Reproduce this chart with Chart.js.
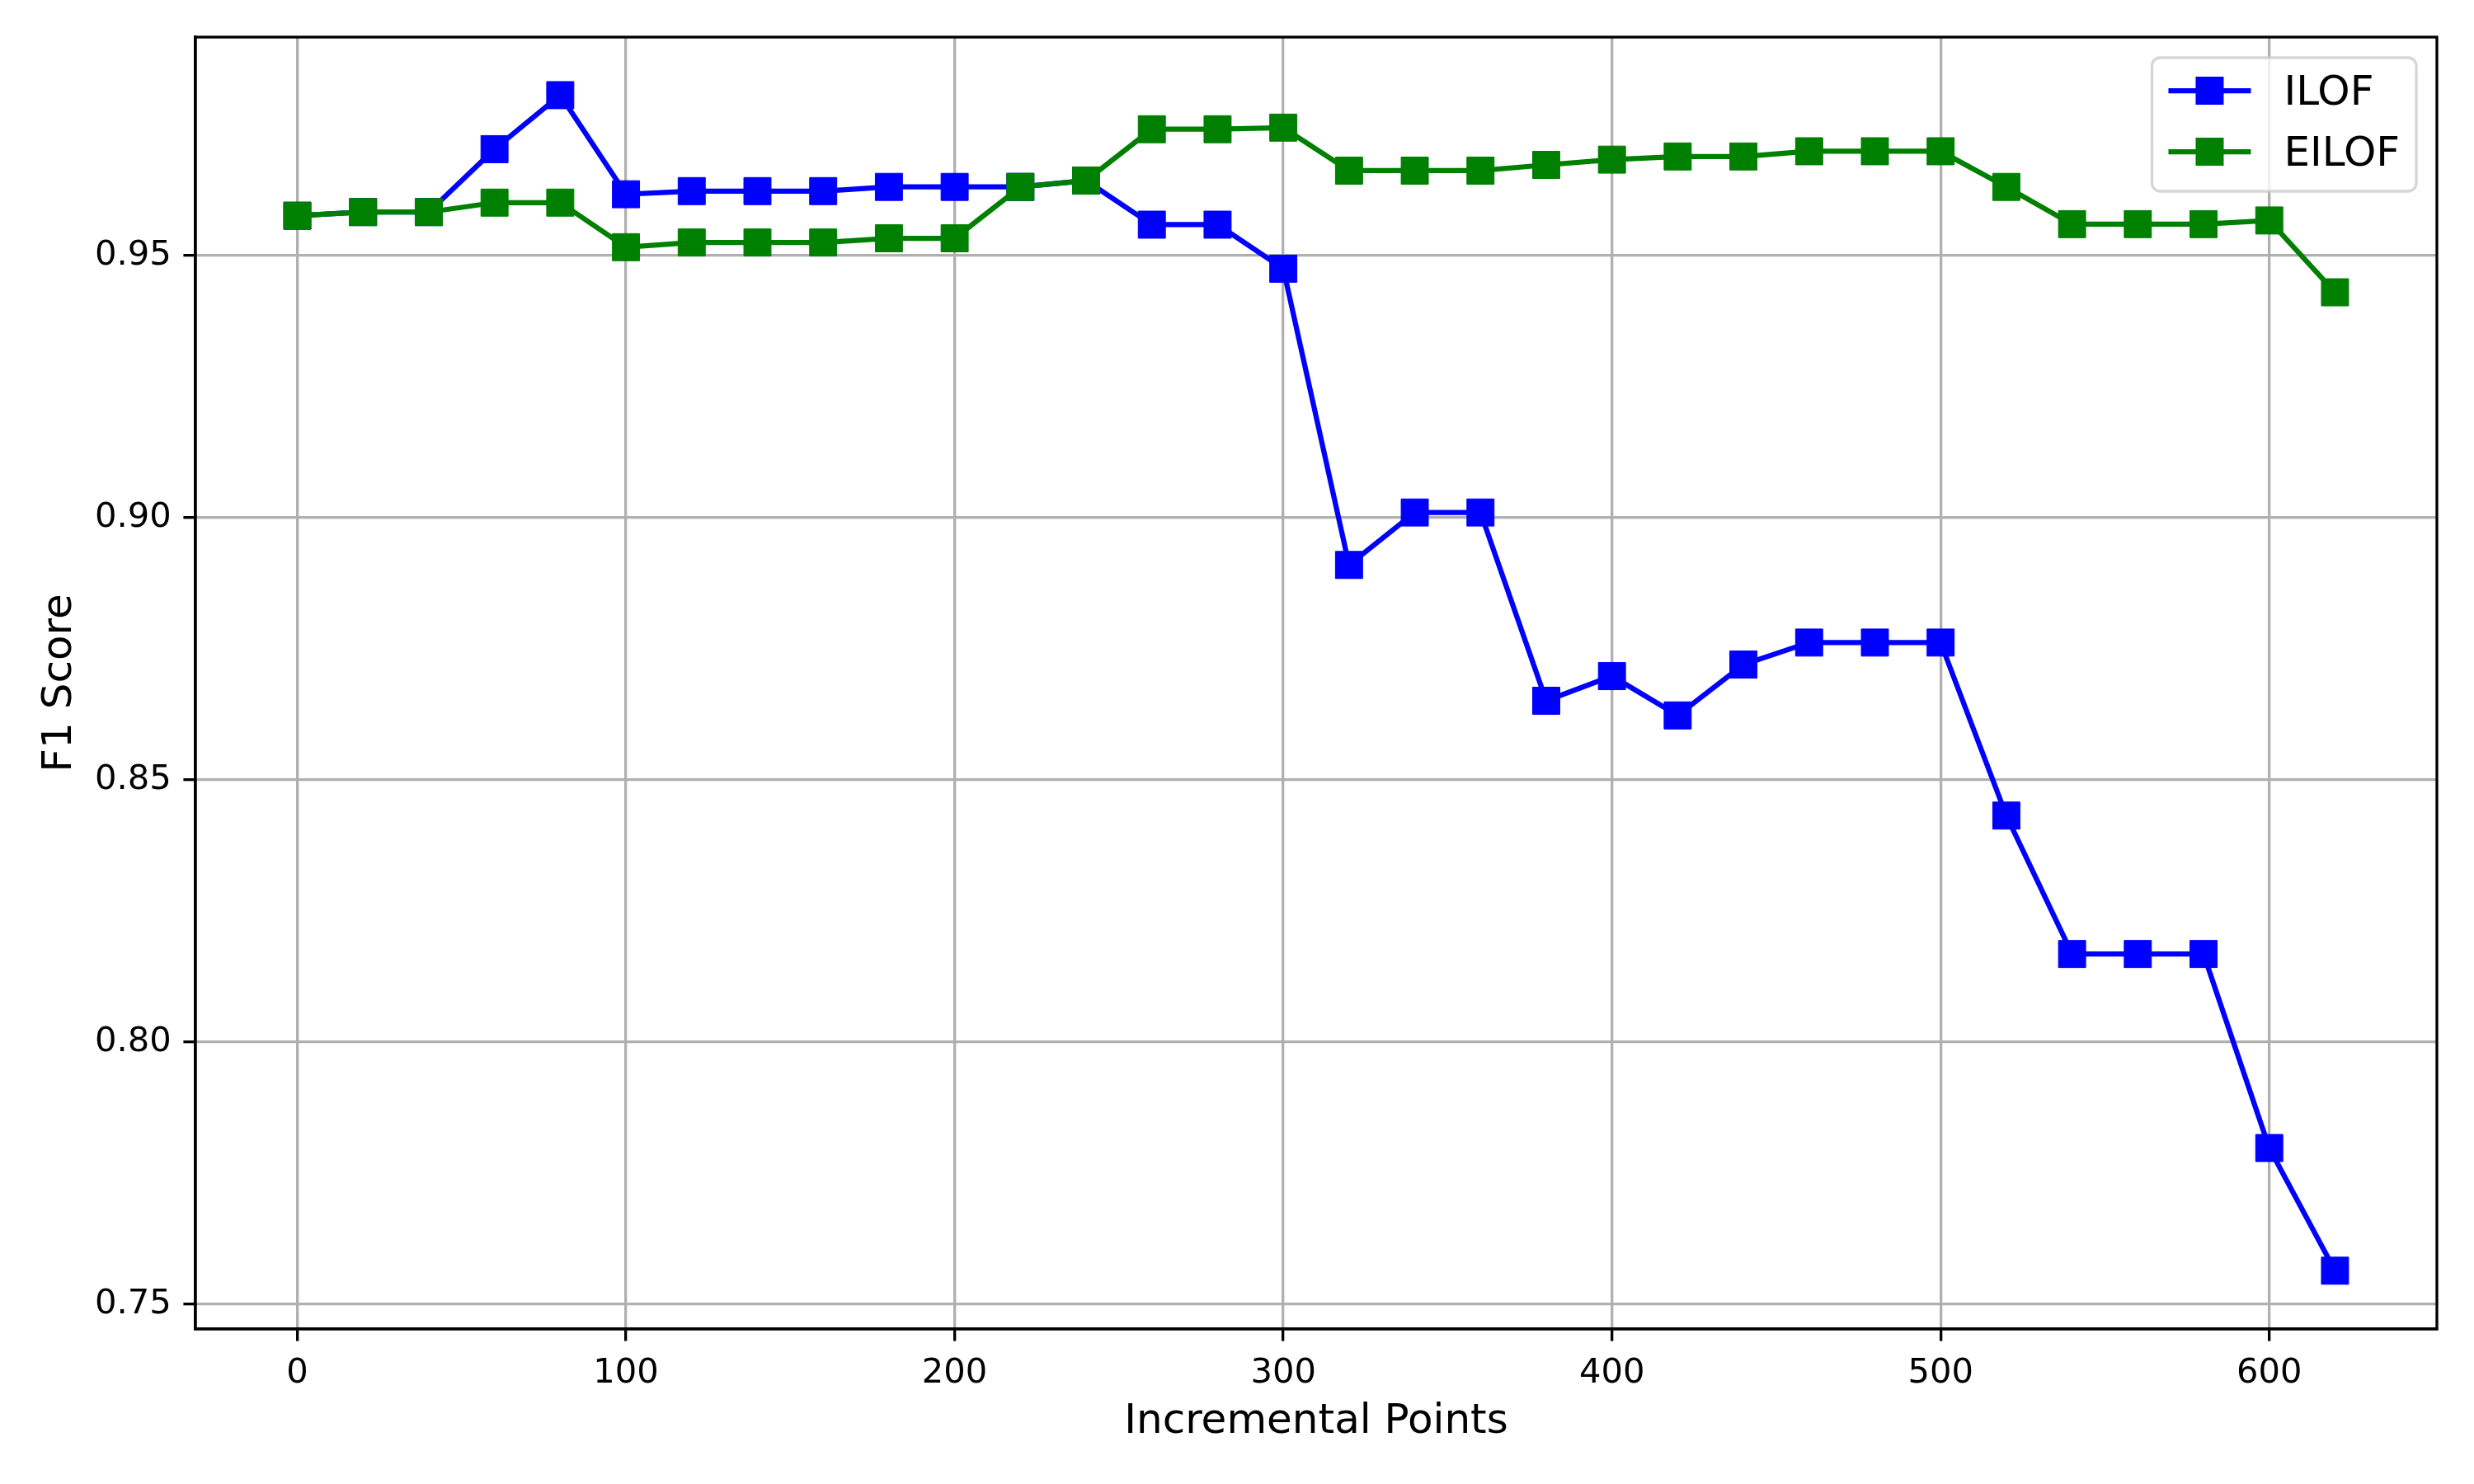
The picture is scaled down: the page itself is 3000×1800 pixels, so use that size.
<!DOCTYPE html>
<html>
<head>
<meta charset="utf-8">
<script src="https://cdn.jsdelivr.net/npm/chart.js@4.4.0/dist/chart.umd.min.js"></script>
<style>
html,body{margin:0;padding:0;background:#ffffff;}
#wrap{width:3000px;height:1800px;}
</style>
</head>
<body>
<div id="wrap"><canvas id="c" width="3000" height="1800"></canvas></div>
<script>
// ---- data ----
const incrementalPoints = [0, 20, 40, 60, 80, 100, 120, 140, 160, 180, 200, 220, 240, 260, 280, 300,
                           320, 340, 360, 380, 400, 420, 440, 460, 480, 500, 520, 540, 560, 580, 600, 620];
const ilofScores = [0.9576, 0.9583, 0.9583, 0.9703, 0.9806, 0.9617, 0.9623, 0.9623, 0.9623, 0.9631, 0.9631,
                    0.9631, 0.9643, 0.9559, 0.9559, 0.9475, 0.8910, 0.9010, 0.9010, 0.8651, 0.8698, 0.8623,
                    0.8720, 0.8762, 0.8762, 0.8762, 0.8432, 0.8168, 0.8168, 0.8168, 0.7798, 0.7564];
const eilofScores = [0.9576, 0.9583, 0.9583, 0.9601, 0.9601, 0.9516, 0.9525, 0.9525, 0.9525, 0.9533, 0.9533,
                     0.9631, 0.9643, 0.9741, 0.9741, 0.9744, 0.9662, 0.9662, 0.9662, 0.9673, 0.9683, 0.9689,
                     0.9689, 0.9699, 0.9699, 0.9699, 0.9631, 0.9560, 0.9560, 0.9560, 0.9567, 0.9430];
const seriesNames = ['ILOF', 'EILOF'];
const seriesColors = ['#0000ff', '#008000'];
const xTickValues = [0, 100, 200, 300, 400, 500, 600];
const yTickValues = [0.75, 0.80, 0.85, 0.90, 0.95];
const xAxisTitle = 'Incremental Points';
const yAxisTitle = 'F1 Score';

// ---- styling ----
const FONT = 'DejaVu Sans';
const LW = 3.33;          // 0.8pt at 300dpi
const TICKLEN = 14.6;     // 3.5pt
const MARKER_R = 23.3;

function pts(ys) { return incrementalPoints.map((x, i) => ({ x: x, y: ys[i] })); }

const frameAndLegend = {
  id: 'frameAndLegend',
  afterDraw(chart) {
    const { ctx, chartArea: a } = chart;
    ctx.save();
    // axes frame (spines)
    ctx.strokeStyle = '#000000';
    ctx.lineWidth = LW;
    ctx.strokeRect(a.left, a.top, a.right - a.left, a.bottom - a.top);

    // legend
    ctx.font = '50px "' + FONT + '"';
    const textW = Math.max(...seriesNames.map(n => ctx.measureText(n).width));
    const pad = 20, handleLen = 100, textPad = 40;
    const w = pad + handleLen + textPad + textW + pad;
    const h = 162;
    const right = a.right - 25, top = a.top + 25;
    const left = right - w;
    const r = 10;
    ctx.beginPath();
    ctx.moveTo(left + r, top);
    ctx.lineTo(right - r, top);
    ctx.arcTo(right, top, right, top + r, r);
    ctx.lineTo(right, top + h - r);
    ctx.arcTo(right, top + h, right - r, top + h, r);
    ctx.lineTo(left + r, top + h);
    ctx.arcTo(left, top + h, left, top + h - r, r);
    ctx.lineTo(left, top + r);
    ctx.arcTo(left, top, left + r, top, r);
    ctx.closePath();
    ctx.fillStyle = 'rgba(255,255,255,0.8)';
    ctx.fill();
    ctx.strokeStyle = 'rgba(204,204,204,0.8)';
    ctx.lineWidth = LW;
    ctx.stroke();

    const rowCenters = [top + 40, top + 114];
    seriesNames.forEach((name, i) => {
      const cy = rowCenters[i];
      const hx = left + pad;
      ctx.strokeStyle = seriesColors[i];
      ctx.lineWidth = 6.25;
      ctx.beginPath();
      ctx.moveTo(hx, cy);
      ctx.lineTo(hx + handleLen, cy);
      ctx.stroke();
      const s = 34;
      ctx.fillStyle = seriesColors[i];
      ctx.fillRect(hx + handleLen / 2 - s / 2, cy - s / 2, s, s);
      ctx.fillStyle = '#000000';
      ctx.textAlign = 'left';
      ctx.textBaseline = 'alphabetic';
      ctx.fillText(name, hx + handleLen + textPad, cy + 17);
    });
    ctx.restore();
  }
};

const ds = (i, ys, order) => ({
  label: seriesNames[i],
  data: pts(ys),
  borderColor: seriesColors[i],
  backgroundColor: seriesColors[i],
  borderWidth: 6.25,
  tension: 0,
  pointStyle: 'rect',
  pointRadius: MARKER_R,
  pointBorderWidth: 1,
  pointBackgroundColor: seriesColors[i],
  pointBorderColor: seriesColors[i],
  order: order,
  clip: false
});

new Chart(document.getElementById('c'), {
  type: 'line',
  data: {
    datasets: [ds(0, ilofScores, 1), ds(1, eilofScores, 0)]
  },
  options: {
    responsive: false,
    devicePixelRatio: 1,
    animation: false,
    events: [],
    layout: { padding: { left: 0, top: 45, right: 45, bottom: 0 } },
    plugins: { legend: { display: false }, tooltip: { enabled: false } },
    scales: {
      x: {
        type: 'linear',
        position: 'bottom',
        min: -31,
        max: 651,
        afterBuildTicks: s => { s.ticks = xTickValues.map(v => ({ value: v })); },
        afterFit: s => { s.height = 188; },
        grid: { color: '#b0b0b0', lineWidth: LW, drawTicks: true, tickLength: TICKLEN, tickWidth: LW, tickColor: '#000000' },
        border: { display: true, color: '#000000', width: LW },
        ticks: {
          font: { family: FONT, size: 41.67 },
          color: '#000000',
          padding: 14.6,
          maxRotation: 0,
          autoSkip: false,
          callback: v => String(v)
        },
        title: {
          display: true, text: xAxisTitle, color: '#000000',
          font: { family: FONT, size: 50, lineHeight: 1.2 },
          padding: { top: 0, bottom: 45 }
        }
      },
      y: {
        type: 'linear',
        position: 'left',
        min: 0.74528,
        max: 0.99167,
        afterBuildTicks: s => { s.ticks = yTickValues.map(v => ({ value: v })); },
        afterFit: s => { s.width = 237; },
        grid: { color: '#b0b0b0', lineWidth: LW, drawTicks: true, tickLength: TICKLEN, tickWidth: LW, tickColor: '#000000' },
        border: { display: true, color: '#000000', width: LW },
        ticks: {
          font: { family: FONT, size: 41.67 },
          color: '#000000',
          padding: 14.6,
          autoSkip: false,
          callback: v => Number(v).toFixed(2)
        },
        title: {
          display: true, text: yAxisTitle, color: '#000000',
          font: { family: FONT, size: 50, lineHeight: 1.2 },
          padding: { top: 43, bottom: 0 }
        }
      }
    }
  },
  plugins: [frameAndLegend]
});
</script>
</body>
</html>
